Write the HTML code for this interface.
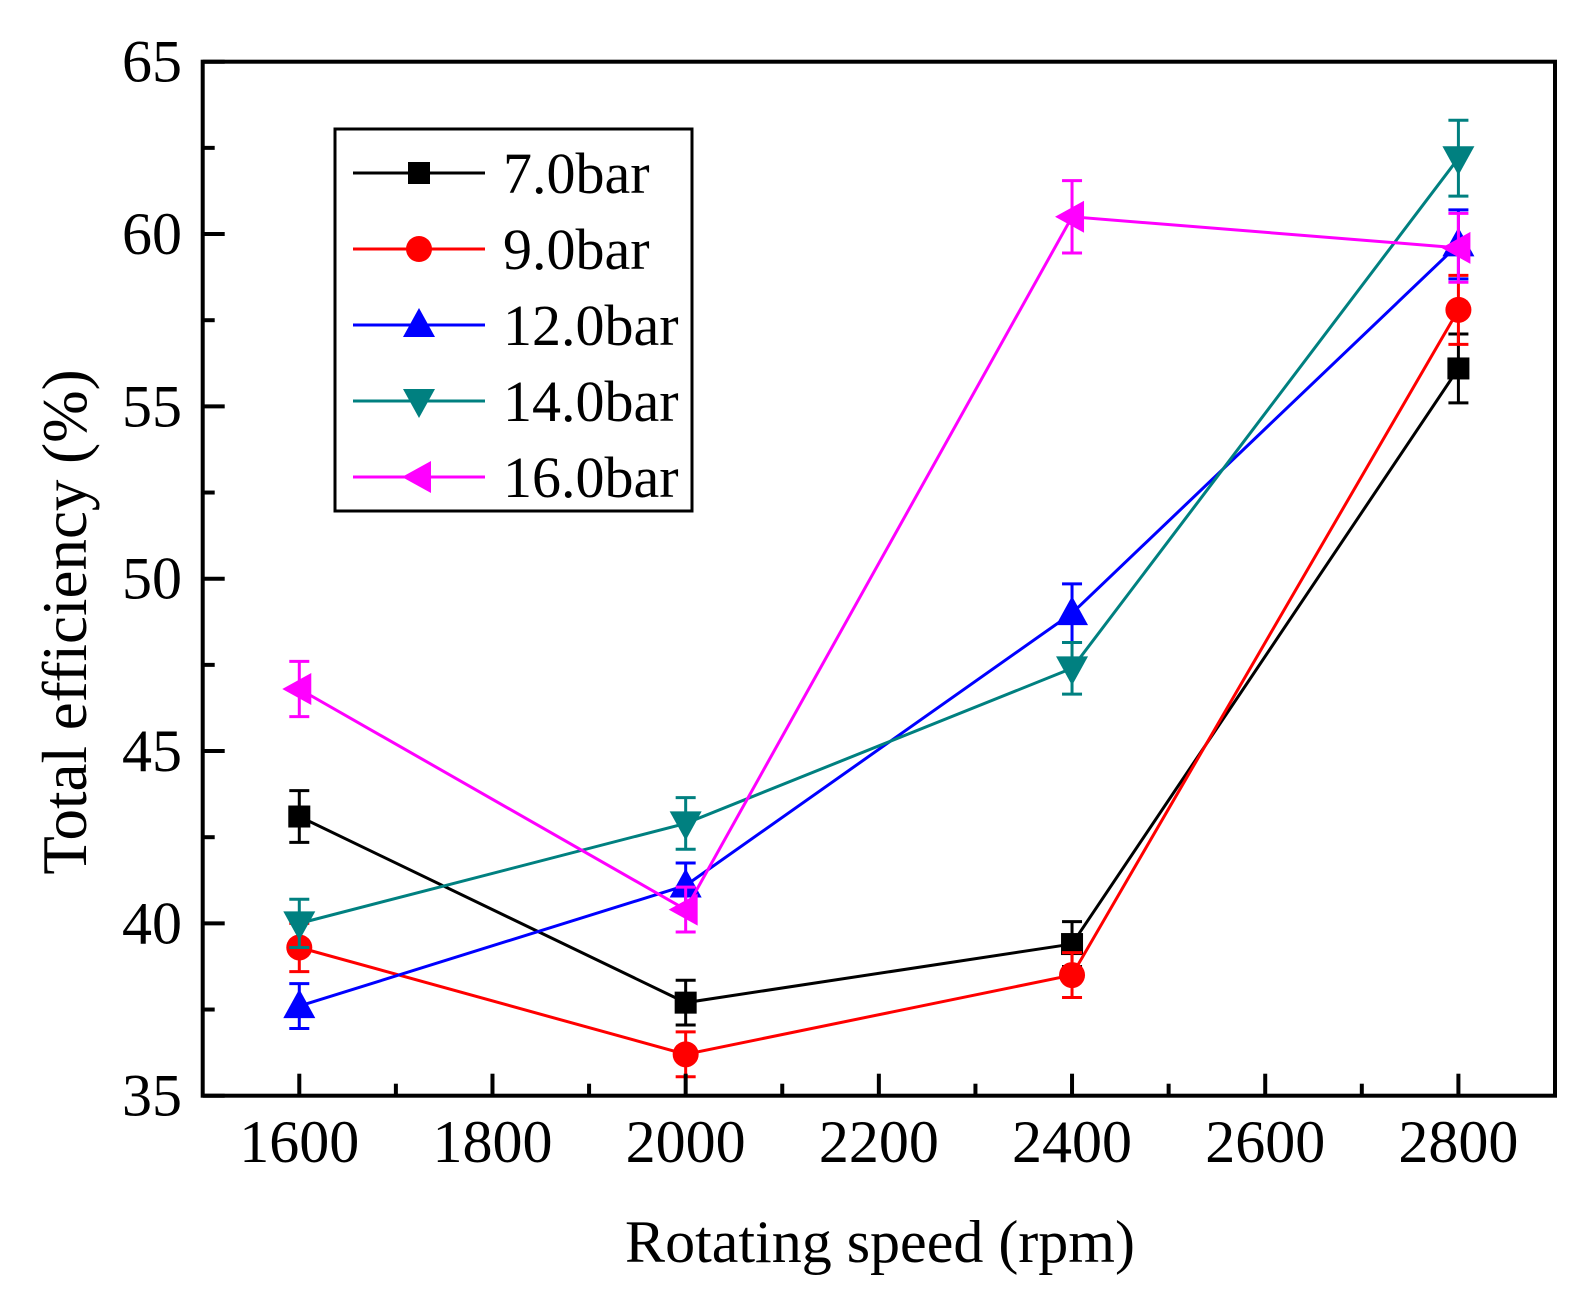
<!DOCTYPE html>
<html><head><meta charset="utf-8"><style>
html,body{margin:0;padding:0;background:#fff;}
svg{display:block;font-family:"Liberation Serif",serif;}
</style></head><body>
<svg id="chart" width="1590" height="1299" viewBox="0 0 1590 1299" xmlns="http://www.w3.org/2000/svg">
<g id="series-layer"></g>
<rect x="202.7" y="61.7" width="1352.3" height="1034" fill="none" stroke="#000" stroke-width="4"/>
<g id="axes"></g>
<text x="880" y="1262" font-size="60" text-anchor="middle">Rotating speed (rpm)</text>
<text transform="translate(86,622) rotate(-90)" font-size="63" text-anchor="middle">Total efficiency (%)</text>
<g id="legend"></g>
</svg>
<script>
const categories = [1600, 2000, 2400, 2800];
const seriesNames = ["7.0bar", "9.0bar", "12.0bar", "14.0bar", "16.0bar"];
const s7 = [43.1, 37.7, 39.4, 56.1];
const s9 = [39.3, 36.2, 38.5, 57.8];
const s12 = [37.6, 41.1, 49.0, 59.7];
const s14 = [40.0, 42.9, 47.4, 62.2];
const s16 = [46.8, 40.4, 60.5, 59.6];
const e7 = [0.75, 0.65, 0.65, 1.0];
const e9 = [0.7, 0.65, 0.65, 1.0];
const e12 = [0.65, 0.65, 0.85, 1.0];
const e14 = [0.7, 0.75, 0.75, 1.1];
const e16 = [0.8, 0.65, 1.05, 1.0];
const xTicks = [1600, 1800, 2000, 2200, 2400, 2600, 2800];
const yTicks = [35, 40, 45, 50, 55, 60, 65];

const NS = "http://www.w3.org/2000/svg";
const X0 = 202.7, X1 = 1555, Y0 = 1095.7, Y1 = 61.7;
const xMin = 1500, xMax = 2900, yMin = 35, yMax = 65;
function xs(v){ return X0 + (v - xMin) / (xMax - xMin) * (X1 - X0); }
function ys(v){ return Y0 - (v - yMin) / (yMax - yMin) * (Y0 - Y1); }
function mk(tag, attrs, parent){ const e = document.createElementNS(NS, tag); for (const k in attrs) e.setAttribute(k, attrs[k]); parent.appendChild(e); return e; }

const colors = ["#000000", "#ff0000", "#0000ff", "#008080", "#ff00ff"];
const shapes = ["square", "circle", "up", "down", "left"];
const values = [s7, s9, s12, s14, s16];
const errors = [e7, e9, e12, e14, e16];

function marker(shape, cx, cy, color, parent){
  let el;
  if (shape === "square") el = mk("rect", {x: cx-11, y: cy-11, width: 22, height: 22, fill: color}, parent);
  else if (shape === "circle") el = mk("circle", {cx: cx, cy: cy, r: 13, fill: color}, parent);
  else if (shape === "up") el = mk("polygon", {points: `${cx},${cy-17} ${cx-16},${cy+12} ${cx+16},${cy+12}`, fill: color}, parent);
  else if (shape === "down") el = mk("polygon", {points: `${cx},${cy+17} ${cx-16},${cy-12} ${cx+16},${cy-12}`, fill: color}, parent);
  else el = mk("polygon", {points: `${cx-17},${cy} ${cx+12},${cy-16} ${cx+12},${cy+16}`, fill: color}, parent);
  return el;
}

const axes = document.getElementById("axes");
xTicks.forEach(t => {
  const x = xs(t);
  const tk = mk("line", {x1: x, x2: x, y1: Y0, y2: Y0-22, stroke: "#000", "stroke-width": 4}, axes);
  
  
  const m = mk("line", {x1: xs(t+100), x2: xs(t+100), y1: Y0, y2: Y0-12, stroke: "#000", "stroke-width": 4}, axes);
  
  
  const lb = mk("text", {x: x, y: 1162, "font-size": 60, "text-anchor": "middle"}, axes);
  lb.textContent = t;
  
  
});
yTicks.forEach(t => {
  const y = ys(t);
  const tk = mk("line", {x1: X0, x2: X0+22, y1: y, y2: y, stroke: "#000", "stroke-width": 4}, axes);
  
  
  if (t < 65) {
    const m = mk("line", {x1: X0, x2: X0+12, y1: ys(t+2.5), y2: ys(t+2.5), stroke: "#000", "stroke-width": 4}, axes);
    
    
  }
  const lb = mk("text", {x: 182, y: y+20, "font-size": 60, "text-anchor": "end"}, axes);
  lb.textContent = t;
  
  
});

const layer = document.getElementById("series-layer");
values.forEach((vals, si) => {
  const g = mk("g", {}, layer);
  
  
  const pts = vals.map((v, i) => xs(categories[i]) + "," + ys(v)).join(" ");
  const pl = mk("polyline", {points: pts, fill: "none", stroke: colors[si], "stroke-width": 3}, g);
  
  
  vals.forEach((v, i) => {
    const x = xs(categories[i]), e = errors[si][i];
    const yt = ys(v + e), yb = ys(v - e);
    const eb = mk("path", {d: `M${x},${yt}V${yb}M${x-10},${yt}H${x+10}M${x-10},${yb}H${x+10}`, stroke: colors[si], "stroke-width": 3, fill: "none"}, g);
    
    
    const m = marker(shapes[si], x, ys(v), colors[si], g);
    
    
  });
});

const legend = document.getElementById("legend");
const box = mk("rect", {x: 335, y: 129, width: 357, height: 382, fill: "#fff", stroke: "#000", "stroke-width": 3}, legend);


seriesNames.forEach((n, i) => {
  const y = 173 + i * 76;
  const g = mk("g", {}, legend);
  
  
  mk("line", {x1: 353, x2: 485, y1: y, y2: y, stroke: colors[i], "stroke-width": 3}, g);
  marker(shapes[i], 419, y, colors[i], g);
  const t = mk("text", {x: 503, y: y + 20, "font-size": 58}, g);
  t.textContent = n;
  
  
});
</script>
</body></html>
